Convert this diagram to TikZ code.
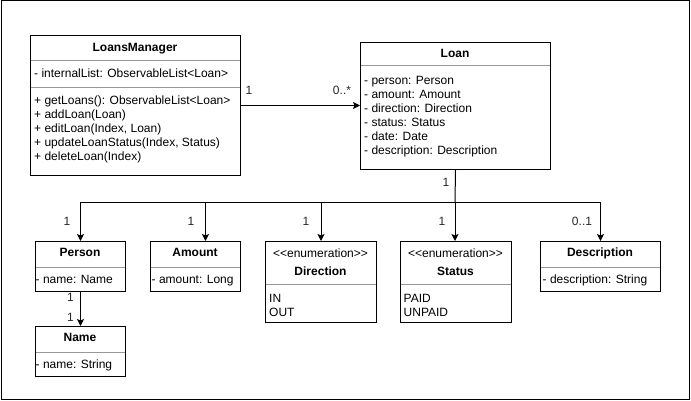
\documentclass[tikz,border=0pt]{standalone}
\usepackage{fontspec}
\setmainfont{Liberation Sans}
\usetikzlibrary{arrows.meta}
\begin{document}
\begin{tikzpicture}[x=1pt,y=-1pt,
  cls/.style={draw=black, line width=1pt, inner sep=0pt, anchor=north west},
  sep/.style={draw=black!40, line width=1pt},
  txt/.style={anchor=base west, inner sep=0pt, font=\fontsize{12}{14}\selectfont},
  ttl/.style={anchor=base, inner sep=0pt, font=\fontsize{12}{14}\selectfont\bfseries},
  ster/.style={anchor=base, inner sep=0pt, font=\fontsize{12}{14}\selectfont},
  lbl/.style={inner sep=0pt, font=\fontsize{12}{14}\selectfont, text=black!85},
  assoc/.style={draw, line width=1pt, -{Stealth[length=7pt,width=7pt,inset=1.5pt]}},
  plain/.style={draw, line width=1pt}
]
\useasboundingbox (0,0) rectangle (691,401);
\draw[line width=1pt] (1,1) rectangle (689.5,399.5);

% class boxes
\node[cls, minimum width=210pt, minimum height=140pt] (lm) at (30,35) {};
\node[cls, minimum width=190pt, minimum height=127pt] (loan) at (360,42) {};
\node[cls, minimum width=90pt, minimum height=50pt] (person) at (35,241) {};
\node[cls, minimum width=90pt, minimum height=50pt] (amount) at (150,241) {};
\node[cls, minimum width=111pt, minimum height=81pt] (direction) at (265,241) {};
\node[cls, minimum width=111pt, minimum height=81pt] (status) at (400,241) {};
\node[cls, minimum width=120pt, minimum height=50pt] (desc) at (540,241) {};
\node[cls, minimum width=90pt, minimum height=50pt] (name) at (35,326) {};

% separators
\draw[sep] (30.5,60.5) -- (239.5,60.5);
\draw[sep] (30.5,87.5) -- (239.5,87.5);
\draw[sep] (360.5,66) -- (549.5,66);
\draw[sep] (35.5,267) -- (124.5,267);
\draw[sep] (150.5,267) -- (239.5,267);
\draw[sep] (265.5,284) -- (375.5,284);
\draw[sep] (400.5,284) -- (510.5,284);
\draw[sep] (540.5,267) -- (659.5,267);
\draw[sep] (35.5,352) -- (124.5,352);

% LoansManager
\node[ttl] (lmT) at (135,51.5) {LoansManager};
\node[txt] (lmA) at (34,77.5) {- internalList: ObservableList<Loan>};
\node[txt] (lmM1) at (34,104.5) {+ getLoans(): ObservableList<Loan>};
\node[txt] (lmM2) at (34,118.5) {+ addLoan(Loan)};
\node[txt] (lmM3) at (34,132.5) {+ editLoan(Index, Loan)};
\node[txt] (lmM4) at (34,146.5) {+ updateLoanStatus(Index, Status)};
\node[txt] (lmM5) at (34,160.5) {+ deleteLoan(Index)};

% Loan
\node[ttl] (loanT) at (455,57.8) {Loan};
\node[txt] (loanA1) at (364,84.5) {- person: Person};
\node[txt] (loanA2) at (364,98.5) {- amount: Amount};
\node[txt] (loanA3) at (364,112.5) {- direction: Direction};
\node[txt] (loanA4) at (364,126.5) {- status: Status};
\node[txt] (loanA5) at (364,140.5) {- date: Date};
\node[txt] (loanA6) at (364,154.5) {- description: Description};

% Person
\node[ttl] (personT) at (80,256.5) {Person};
\node[txt] (personA) at (35.5,283.5) {- name: Name};
% Amount
\node[ttl] (amountT) at (195,256.5) {Amount};
\node[txt] (amountA) at (151.5,283.5) {- amount: Long};
% Direction
\node[ster] (dirS) at (320.5,257) {<\kern0pt<enumeration>\kern0pt>};
\node[ttl] (dirT) at (320.5,275) {Direction};
\node[txt] (dirA1) at (269,302.5) {IN};
\node[txt] (dirA2) at (269,316.5) {OUT};
% Status
\node[ster] (stS) at (455.5,257) {<\kern0pt<enumeration>\kern0pt>};
\node[ttl] (stT) at (455.5,275) {Status};
\node[txt] (stA1) at (403.5,302.5) {PAID};
\node[txt] (stA2) at (403.5,316.5) {UNPAID};
% Description
\node[ttl] (descT) at (600,256.5) {Description};
\node[txt] (descA) at (542.5,283.5) {- description: String};
% Name
\node[ttl] (nameT) at (80,341.5) {Name};
\node[txt] (nameA) at (35.5,368.5) {- name: String};

% connectors
\draw[assoc] (lm.east) -- (lm.east -| loan.west);
\coordinate (bus) at (455,202);
\draw[plain] (loan.south) -- (bus);
\draw[assoc] (bus) -| (person.north);
\draw[assoc] (bus) -| ([xshift=10pt]amount.north);
\draw[assoc] (bus) -| (direction.north);
\draw[assoc] (bus) -- (bus |- status.north);
\draw[assoc] (bus) -| (desc.north);
\draw[assoc] (person.south) -- (name.north);

% multiplicities
\node[lbl] (m1) at (249,90) {1};
\node[lbl] (m2) at (342,90) {0..*};
\node[lbl] (m3) at (446,182) {1};
\node[lbl] (m4) at (67,221) {1};
\node[lbl] (m5) at (191,221) {1};
\node[lbl] (m6) at (306,221) {1};
\node[lbl] (m7) at (442,221) {1};
\node[lbl] (m8) at (582,221) {0..1};
\node[lbl] (m9) at (70.5,297) {1};
\node[lbl] (m10) at (70.5,317) {1};
\end{tikzpicture}
\end{document}
